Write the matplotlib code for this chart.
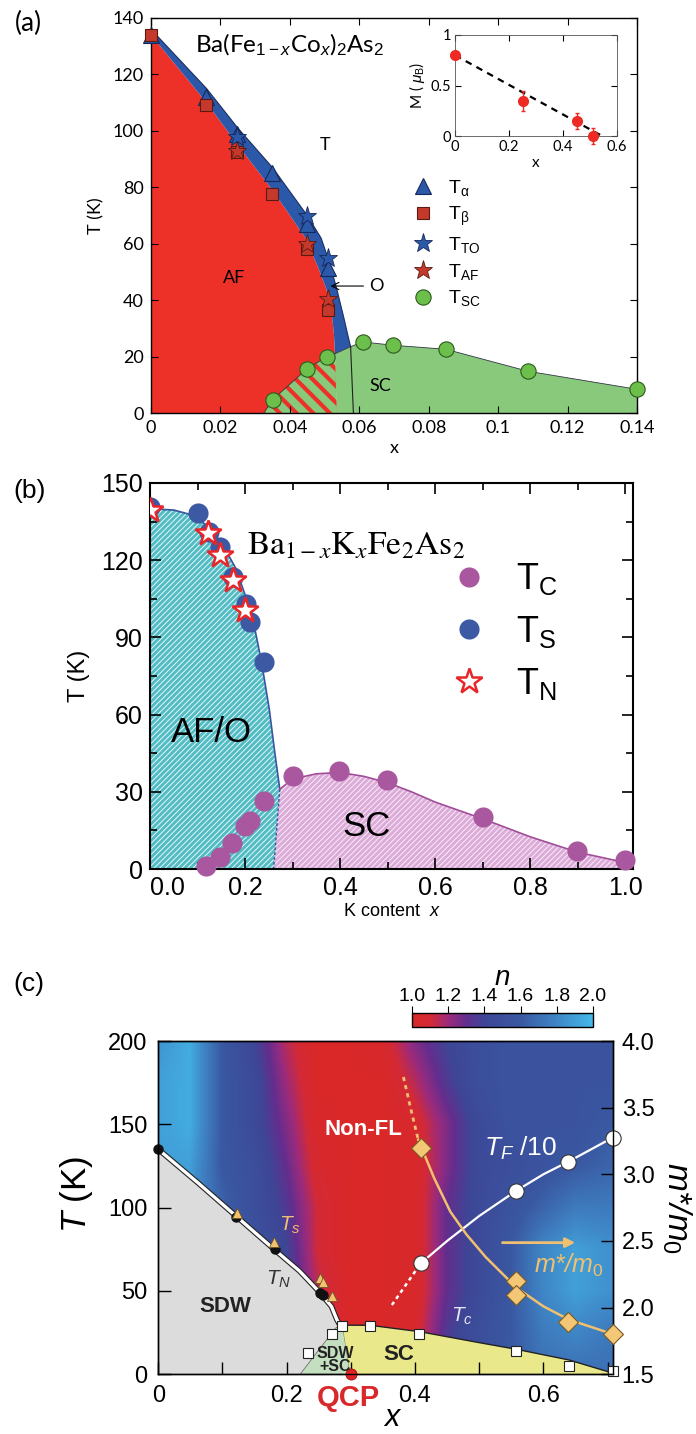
import numpy as np
import matplotlib
matplotlib.use('Agg')
import matplotlib.pyplot as plt
from matplotlib.colors import LinearSegmentedColormap, Normalize
from matplotlib.lines import Line2D
import matplotlib.transforms as mtransforms

plt.rcParams['font.family'] = ['Liberation Sans', 'DejaVu Sans']
plt.rcParams['mathtext.fontset'] = 'custom'
plt.rcParams['mathtext.rm'] = 'Liberation Sans'
plt.rcParams['mathtext.it'] = 'Liberation Sans:italic'
plt.rcParams['mathtext.bf'] = 'Liberation Sans:bold'
plt.rcParams['axes.linewidth'] = 1.0

#%% (a) Ba(Fe1-xCox)2As2 data
a_alpha_x = [0.0, 0.0158, 0.0247, 0.0349, 0.0448, 0.0510]
a_alpha_T = [134, 112, 99, 85, 67, 51.5]
a_beta_x = [0.0, 0.0158, 0.0247, 0.0349, 0.0450, 0.0510]
a_beta_T = [134, 109, 92.5, 77.5, 58, 36.5]
a_to_x = [0.0247, 0.0448, 0.0510]
a_to_T = [98, 70, 55]
a_af_x = [0.0247, 0.0450, 0.0510]
a_af_T = [93, 60, 40.5]
a_sc_x = [0.035, 0.045, 0.0507, 0.061, 0.0698, 0.0849, 0.1086, 0.14]
a_sc_T = [4.7, 15.7, 20, 25.2, 24, 22.6, 14.8, 8.4]

# phase boundaries in (a)
a_af_edge_x = [0.0, 0.016, 0.025, 0.035, 0.0445, 0.048, 0.0505, 0.052, 0.0527, 0.053, 0.0535]
a_af_edge_T = [134, 110, 95, 79, 62, 52, 44, 36, 28, 21, 0]
a_o_edge_x = [0.0, 0.016, 0.025, 0.035, 0.045, 0.049, 0.0515, 0.0535, 0.0555, 0.057, 0.0575]
a_o_edge_T = [136, 115, 101, 87, 70, 62, 53, 44, 34, 26, 23.5]
a_dome_x = [0.053, 0.0575, 0.061, 0.0698, 0.0849, 0.1086, 0.14]
a_dome_T = [21, 23.5, 25.2, 24, 22.6, 14.8, 8.4]
a_mix_x = [0.0325, 0.035, 0.045, 0.0507, 0.053, 0.0535]
a_mix_T = [0, 4.7, 15.7, 20, 21, 0]
a_split_x = [0.0575, 0.0583]
a_split_T = [23.5, 0]

a_xticks = [0, 0.02, 0.04, 0.06, 0.08, 0.1, 0.12, 0.14]
a_xlabels = ['0', '0.02', '0.04', '0.06', '0.08', '0.1', '0.12', '0.14']
a_yticks = [0, 20, 40, 60, 80, 100, 120, 140]

# inset: ordered moment
ins_x = [0.0, 0.25, 0.45, 0.51]
ins_M = [0.80, 0.35, 0.15, 0.0]
ins_err = [0.0, 0.10, 0.08, 0.08]
ins_fit_x = [0.0, 0.545]
ins_fit_M = [0.80, 0.0]

#%% (b) Ba1-xKxFe2As2 data
b_ts_x = [0.0, 0.102, 0.125, 0.147, 0.175, 0.202, 0.21, 0.24]
b_ts_T = [140.5, 138.5, 131, 125, 113.5, 103, 96, 80.5]
b_tn_x = [0.0, 0.123, 0.147, 0.175, 0.200]
b_tn_T = [139.5, 130.5, 122, 112.5, 100.5]
b_tc_x = [0.117, 0.147, 0.173, 0.199, 0.21, 0.239, 0.30, 0.398, 0.499, 0.70, 0.899, 1.0]
b_tc_T = [1.0, 4.7, 10.1, 16.9, 18.6, 26.4, 36.1, 38, 34.5, 20.3, 6.9, 3.4]

b_afo_x = [0.0, 0.05, 0.10, 0.15, 0.18, 0.205, 0.222, 0.235, 0.251, 0.262, 0.273]
b_afo_T = [140, 139.5, 137, 127, 117, 104, 92, 80, 62, 46, 31]
b_dash_x = [0.273, 0.26]
b_dash_T = [31, 0]
b_sc_x = [0.273, 0.30, 0.35, 0.40, 0.45, 0.50, 0.55, 0.60, 0.70, 0.80, 0.90, 1.00, 1.016]
b_sc_T = [31, 35, 37, 37.5, 36, 33.5, 30, 26, 19.5, 12.5, 6.5, 2.5, 2]

b_xticks = [0.0, 0.2, 0.4, 0.6, 0.8, 1.0]
b_xlabels = ['0.0', '0.2', '0.4', '0.6', '0.8', '1.0']
b_yticks = [0, 30, 60, 90, 120, 150]

#%% (c) resistivity exponent map
c_grid_x = [0.0, 0.05, 0.1, 0.15, 0.2, 0.25, 0.3, 0.35, 0.4, 0.45, 0.5, 0.55, 0.6, 0.65, 0.7]
c_grid_T = [0, 25, 50, 75, 100, 125, 150, 175, 200]
c_n_T0   = [1.8, 1.8, 1.7, 1.55, 1.4, 1.15, 1.0, 1.0, 1.1, 1.4, 1.5, 1.6, 1.7, 1.7, 1.7]
c_n_T25  = [1.8, 1.8, 1.7, 1.55, 1.4, 1.15, 1.0, 1.0, 1.05, 1.35, 1.5, 1.6, 1.75, 1.8, 1.75]
c_n_T50  = [1.8, 1.8, 1.7, 1.55, 1.4, 1.15, 1.0, 1.0, 1.02, 1.3, 1.45, 1.6, 1.8, 1.9, 1.85]
c_n_T75  = [1.8, 1.8, 1.7, 1.55, 1.4, 1.1, 1.0, 1.0, 1.02, 1.3, 1.45, 1.6, 1.8, 1.9, 1.85]
c_n_T100 = [1.85, 1.85, 1.65, 1.5, 1.35, 1.1, 1.0, 1.0, 1.02, 1.3, 1.45, 1.55, 1.65, 1.75, 1.75]
c_n_T125 = [1.9, 1.9, 1.6, 1.5, 1.3, 1.05, 1.0, 1.0, 1.02, 1.25, 1.45, 1.5, 1.55, 1.6, 1.65]
c_n_T150 = [1.9, 1.95, 1.6, 1.45, 1.25, 1.02, 1.0, 1.0, 1.05, 1.25, 1.45, 1.55, 1.55, 1.55, 1.6]
c_n_T175 = [1.9, 1.95, 1.6, 1.45, 1.2, 1.0, 1.0, 1.0, 1.15, 1.35, 1.5, 1.55, 1.55, 1.55, 1.55]
c_n_T200 = [1.85, 1.95, 1.6, 1.4, 1.15, 1.0, 1.0, 1.05, 1.25, 1.4, 1.5, 1.55, 1.55, 1.55, 1.55]

c_sdw_x = [0.0, 0.121, 0.182, 0.252, 0.257]
c_sdw_T = [135, 94.2, 75.2, 48.6, 47.6]
c_ts_x = [0.122, 0.18, 0.252, 0.257, 0.27]
c_ts_T = [97, 79.2, 57.6, 55.6, 47]
c_tc_x = [0.234, 0.27, 0.286, 0.33, 0.407, 0.558, 0.64, 0.709]
c_tc_T = [13, 24, 29, 29.2, 24.2, 14.2, 5, 2.2]
c_qcp_x = [0.301]
c_qcp_T = [0]
c_tf_x = [0.409, 0.558, 0.639, 0.708]
c_tf_T = [66.6, 110.2, 127.6, 142]
c_tf_line_x = [0.409, 0.45, 0.50, 0.558, 0.60, 0.639, 0.708]
c_tf_line_T = [66.6, 80, 95, 110.2, 120, 127.6, 142]
c_tf_dash_x = [0.364, 0.409]
c_tf_dash_T = [41.6, 66.6]
c_m_x = [0.41, 0.558, 0.558, 0.639, 0.709]
c_m_val = [3.2, 2.2, 2.095, 1.895, 1.80]
c_m_line_x = [0.405, 0.43, 0.455, 0.48, 0.51, 0.558, 0.60, 0.64, 0.709]
c_m_line_val = [3.26, 2.97, 2.72, 2.55, 2.38, 2.15, 2.01, 1.91, 1.80]
c_m_dot_x = [0.382, 0.393, 0.405]
c_m_dot_val = [3.73, 3.5, 3.26]

c_sdw_edge_x = [0.0, 0.06, 0.121, 0.182, 0.22, 0.252, 0.27, 0.278, 0.283]
c_sdw_edge_T = [135, 115.5, 95, 74.5, 62, 49, 40.6, 33, 29.5]
c_mix_x = [0.221, 0.276, 0.283, 0.287, 0.299]
c_mix_T = [0, 27.6, 29.5, 29.5, 0]
c_dome_x = [0.287, 0.33, 0.407, 0.50, 0.558, 0.64, 0.709]
c_dome_T = [29.5, 29.4, 25.6, 19, 15, 8.6, 0.6]

c_xticks = [0, 0.2, 0.4, 0.6]
c_xlabels = ['0', '0.2', '0.4', '0.6']
c_yticks = [0, 50, 100, 150, 200]
c_rticks = [1.5, 2.0, 2.5, 3.0, 3.5, 4.0]
c_cbticks = [1.0, 1.2, 1.4, 1.6, 1.8, 2.0]

#%% Figure setup
W, H = 696.0, 1434.0
fig = plt.figure(figsize=(W / 100, H / 100), dpi=100)


def box(l, t, r, b):
    return [l / W, 1 - b / H, (r - l) / W, (b - t) / H]


def hatch_lw(patch, lw):
    if hasattr(patch, 'set_hatch_linewidth'):
        patch.set_hatch_linewidth(lw)

#%% Panel (a)
RED_A = '#ee3128'
BLUE_A = '#2b58a8'
GREEN_A = '#88c97c'
FA = 'Lato'

ax_a = fig.add_axes(box(151, 18, 637, 413))
ax_a.fill(a_af_edge_x + [0.0], a_af_edge_T + [0.0], color=RED_A, lw=0, zorder=1)
ax_a.fill(a_o_edge_x + a_af_edge_x[-2::-1], a_o_edge_T + a_af_edge_T[-2::-1],
          color=BLUE_A, lw=0, zorder=1)
ax_a.fill([0.0535] + a_dome_x + [0.14], [0] + a_dome_T + [0], color=GREEN_A, lw=0, zorder=1)
with plt.rc_context({'hatch.linewidth': 3.0}):
    mix = ax_a.fill(a_mix_x, a_mix_T, facecolor=GREEN_A, edgecolor=RED_A,
                    hatch='\\\\', lw=0, zorder=1)[0]
    hatch_lw(mix, 3.0)
ax_a.plot(a_o_edge_x, a_o_edge_T, color='#1c2f60', lw=0.8, zorder=2)
ax_a.plot(a_dome_x, a_dome_T, color='#334', lw=0.6, zorder=2)
ax_a.plot(a_split_x, a_split_T, color='#222', lw=0.8, zorder=2)
ax_a.plot(a_mix_x[:-1], a_mix_T[:-1], color='#333', lw=0.6, zorder=2)

ax_a.plot(a_alpha_x, a_alpha_T, '^', ms=11, mfc=BLUE_A, mec='#15285a', mew=0.8, ls='none', zorder=5, clip_on=False)
ax_a.plot(a_beta_x, a_beta_T, 's', ms=9, mfc='#c5392c', mec='#5a1a10', mew=0.8, ls='none', zorder=6, clip_on=False)
ax_a.plot(a_to_x, a_to_T, '*', ms=14, mfc=BLUE_A, mec='#15285a', mew=0.6, ls='none', zorder=7)
ax_a.plot(a_af_x, a_af_T, '*', ms=14, mfc='#c5392c', mec='#5a1a10', mew=0.6, ls='none', zorder=8)
ax_a.plot(a_sc_x, a_sc_T, 'o', ms=11, mfc='#6dbf4c', mec='#2c5a1c', mew=0.8, ls='none', zorder=9, clip_on=False)

ax_a.set_xlim(0, 0.14)
ax_a.set_ylim(0, 140)
ax_a.set_xticks(a_xticks)
ax_a.set_xticklabels(a_xlabels)
ax_a.set_yticks(a_yticks)
ax_a.tick_params(direction='in', top=True, right=True, length=5, labelsize=13, pad=5)
for lab in ax_a.get_xticklabels() + ax_a.get_yticklabels():
    lab.set_fontfamily(FA)
ax_a.set_xlabel('x', fontsize=13, family=FA, labelpad=3)
ax_a.set_ylabel('T (K)', fontsize=13, family=FA, labelpad=6)

ax_a.text(0.0127, 130.5, r'Ba(Fe$_{1-x}$Co$_x$)$_2$As$_2$', fontsize=17.5, family=FA, va='center')
ax_a.text(0.050, 95, 'T', fontsize=13, family=FA, ha='center', va='center')
ax_a.text(0.024, 48, 'AF', fontsize=13, family=FA, ha='center', va='center')
ax_a.text(0.066, 9.5, 'SC', fontsize=13, family=FA, ha='center', va='center')
ax_a.annotate('O', xy=(0.0517, 45), xytext=(0.0628, 45), fontsize=13, family=FA, va='center',
              arrowprops=dict(arrowstyle='->', lw=0.8, color='k', shrinkA=2, shrinkB=0))

a_handles = [
    Line2D([], [], marker='^', ls='none', ms=11, mfc=BLUE_A, mec='#15285a', mew=0.8),
    Line2D([], [], marker='s', ls='none', ms=9, mfc='#c5392c', mec='#5a1a10', mew=0.8),
    Line2D([], [], marker='*', ls='none', ms=14, mfc=BLUE_A, mec='#15285a', mew=0.6),
    Line2D([], [], marker='*', ls='none', ms=14, mfc='#c5392c', mec='#5a1a10', mew=0.6),
    Line2D([], [], marker='o', ls='none', ms=11, mfc='#6dbf4c', mec='#2c5a1c', mew=0.8),
]
a_labels = [r'T$_{\mathrm{α}}$', r'T$_{\mathrm{β}}$', r'T$_{\mathrm{TO}}$', r'T$_{\mathrm{AF}}$', r'T$_{\mathrm{SC}}$']
leg_a = ax_a.legend(a_handles, a_labels, loc='center left', bbox_to_anchor=(0.535, 0.43),
                    frameon=False, fontsize=14, handlelength=1.2, handletextpad=0.7,
                    labelspacing=0.35, borderpad=0, borderaxespad=0)

# inset
ax_in = fig.add_axes(box(455, 35, 617, 136))
ax_in.plot(ins_fit_x, ins_fit_M, ls=(0, (3, 2.5)), color='k', lw=1.6, zorder=2)
ax_in.errorbar(ins_x, ins_M, yerr=ins_err, fmt='o', ms=7, color='#ee2a24', ecolor='#ee2a24',
               elinewidth=1, capsize=1.5, zorder=3, clip_on=False)
ax_in.set_xlim(0, 0.6)
ax_in.set_ylim(0, 1)
ax_in.set_xticks([0, 0.2, 0.4, 0.6])
ax_in.set_xticklabels(['0', '0.2', '0.4', '0.6'])
ax_in.set_yticks([0, 0.5, 1])
ax_in.set_yticklabels(['0', '0.5', '1'])
ax_in.tick_params(direction='in', top=True, right=True, length=4, labelsize=10.5, pad=3)
for lab in ax_in.get_xticklabels() + ax_in.get_yticklabels():
    lab.set_fontfamily(FA)
ax_in.set_xlabel('x', fontsize=11, family=FA, labelpad=1)
ax_in.set_ylabel(r'M ( $\mu_{\rm B}$)', fontsize=11, family=FA, labelpad=2)
for s in ax_in.spines.values():
    s.set_linewidth(0.6)
    s.set_color('#555')

fig.text(28 / W, 1 - 23 / H, '(a)', fontsize=19, family=FA, ha='center', va='center')

#%% Panel (b)
CYAN_B = '#52bcc4'
PINK_B = '#dcabd9'
ax_b = fig.add_axes(box(150, 483, 633, 869))
with plt.rc_context({'hatch.linewidth': 0.7, 'hatch.color': 'white'}):
    afo = ax_b.fill([0.0] + b_afo_x + b_dash_x[1:], [0.0] + b_afo_T + b_dash_T[1:],
                    facecolor=CYAN_B, edgecolor='#e8f7f8', hatch='//////', lw=0, zorder=1)[0]
    hatch_lw(afo, 0.7)
    scb = ax_b.fill(b_dash_x[::-1] + b_sc_x + [1.016], b_dash_T[::-1] + b_sc_T + [0],
                    facecolor=PINK_B, edgecolor='#f8eef7', hatch='//////', lw=0, zorder=1)[0]
    hatch_lw(scb, 0.7)
ax_b.plot(b_afo_x, b_afo_T, color='#3a55a0', lw=1.2, zorder=2)
ax_b.plot(b_dash_x, b_dash_T, color='#3a55a0', lw=1.0, ls=(0, (2, 1.5)), zorder=2)
ax_b.plot(b_sc_x, b_sc_T, color='#a04e98', lw=1.2, zorder=2)

ax_b.plot(b_tc_x, b_tc_T, 'o', ms=14.5, mfc='#a9579f', mec='none', ls='none', zorder=4, clip_on=False)
ax_b.plot(b_ts_x, b_ts_T, 'o', ms=14.5, mfc='#3d59a3', mec='none', ls='none', zorder=4)
ax_b.plot(b_tn_x, b_tn_T, '*', ms=19, mfc='white', mec='#e8262a', mew=1.8, ls='none', zorder=5)

ax_b.set_xlim(0, 1.016)
ax_b.set_ylim(0, 150)
ax_b.set_xticks(b_xticks)
ax_b.set_xticklabels(b_xlabels)
ax_b.get_xticklabels()[0].set_horizontalalignment('left')
ax_b.set_xticks(np.arange(0.1, 1.0, 0.2), minor=True)
ax_b.set_yticks(b_yticks)
ax_b.set_yticks(np.arange(15, 150, 30), minor=True)
ax_b.tick_params(which='both', direction='in', top=True, right=True, labelsize=18, pad=5)
ax_b.tick_params(which='major', length=8, width=1.2)
ax_b.tick_params(which='minor', length=5, width=1.2)
for s in ax_b.spines.values():
    s.set_linewidth(1.5)
ax_b.set_xlabel(r'K content  $x$', fontsize=13, labelpad=2)
ax_b.set_ylabel('T (K)', fontsize=17, labelpad=8)

ax_b.text(0.205, 125.5, r'$\mathrm{Ba}_{1-x}\mathrm{K}_x\mathrm{Fe}_2\mathrm{As}_2$', fontsize=24,
          math_fontfamily='stix', va='center')
ax_b.text(0.13, 53, 'AF/O', fontsize=25, ha='center', va='center', zorder=6)
ax_b.text(0.455, 16.5, 'SC', fontsize=25, ha='center', va='center', zorder=6)

b_handles = [
    Line2D([], [], marker='o', ls='none', ms=14.5, mfc='#a9579f', mec='none'),
    Line2D([], [], marker='o', ls='none', ms=14.5, mfc='#3d59a3', mec='none'),
    Line2D([], [], marker='*', ls='none', ms=19, mfc='white', mec='#e8262a', mew=1.8),
]
b_labels = [r'T$_{\mathrm{C}}$', r'T$_{\mathrm{S}}$', r'T$_{\mathrm{N}}$']
ax_b.legend(b_handles, b_labels, loc='center left', bbox_to_anchor=(0.63, 0.615),
            frameon=False, fontsize=26, handlelength=0.8, handletextpad=0.9,
            labelspacing=0.45, borderpad=0, borderaxespad=0)

fig.text(30 / W, 1 - 491 / H, '(b)', fontsize=19, ha='center', va='center')

#%% Panel (c)
n_cmap = LinearSegmentedColormap.from_list('n_exp', [
    (0.0, '#da2828'), (0.1, '#d42a36'), (0.2, '#9b2b7c'), (0.3, '#632e8e'),
    (0.4, '#3e4696'), (0.6, '#3a58a2'), (0.8, '#3f86c6'), (1.0, '#44b8e8')])
c_n = np.array([c_n_T0, c_n_T25, c_n_T50, c_n_T75, c_n_T100, c_n_T125, c_n_T150, c_n_T175, c_n_T200])
dx = c_grid_x[1] - c_grid_x[0]
dT = c_grid_T[1] - c_grid_T[0]

ax_c = fig.add_axes(box(158.3, 1041, 613.3, 1374.3))
im = ax_c.imshow(c_n, origin='lower', cmap=n_cmap, norm=Normalize(1.0, 2.0), aspect='auto',
                 interpolation='bilinear',
                 extent=(c_grid_x[0] - dx / 2, c_grid_x[-1] + dx / 2, c_grid_T[0] - dT / 2, c_grid_T[-1] + dT / 2),
                 zorder=0)
ax_c.fill(c_sdw_edge_x + c_mix_x[1::-1] + [0.0], c_sdw_edge_T + c_mix_T[1::-1] + [0.0],
          color='#dcdcdc', lw=0, zorder=1)
ax_c.fill(c_mix_x, c_mix_T, facecolor='#c4dfbf', edgecolor='#777', lw=0.6, zorder=1)
ax_c.fill([0.299] + c_dome_x + [0.709], [0] + c_dome_T + [0], color='#e9e98c', lw=0, zorder=1)
ax_c.plot(c_dome_x, c_dome_T, color='#222', lw=1.0, zorder=2)
ax_c.plot(c_sdw_edge_x, c_sdw_edge_T, color='#222', lw=4.0, zorder=2, solid_capstyle='butt')
ax_c.plot(c_sdw_edge_x, c_sdw_edge_T, color='white', lw=2.4, zorder=2, solid_capstyle='butt')

ax_c.plot(c_sdw_x, c_sdw_T, 'o', ms=6.5, mfc='#111', mec='#111', ls='none', zorder=4, clip_on=False)
ax_c.plot(c_ts_x, c_ts_T, '^', ms=6.5, mfc='#f2c26e', mec='#6b5524', mew=0.6, ls='none', zorder=5)
ax_c.plot(c_tc_x, c_tc_T, 's', ms=7, mfc='white', mec='#222', mew=0.8, ls='none', zorder=6, clip_on=False)
ax_c.plot(c_qcp_x, c_qcp_T, 'o', ms=8, mfc='#e02424', mec='#a01010', mew=0.6, ls='none', zorder=7, clip_on=False)
ax_c.plot(c_tf_line_x, c_tf_line_T, color='white', lw=1.6, zorder=3)
ax_c.plot(c_tf_dash_x, c_tf_dash_T, color='white', lw=1.8, ls=(0, (1.5, 1.5)), zorder=3)
ax_c.plot(c_tf_x, c_tf_T, 'o', ms=11, mfc='white', mec='#333', mew=0.8, ls='none', zorder=6, clip_on=False)

ax_c.set_xlim(0, 0.709)
ax_c.set_ylim(0, 200)
ax_c.set_xticks(c_xticks)
ax_c.set_xticklabels(c_xlabels)
ax_c.set_xticks([0.1, 0.3, 0.5, 0.7], minor=True)
ax_c.set_yticks(c_yticks)
ax_c.tick_params(which='both', direction='in', labelsize=17, length=9, width=1.0, pad=8,
                 top=False, right=False)
ax_c.set_xlabel(r'$x$', fontsize=22)
ax_c.xaxis.set_label_coords(0.515, -0.085)
ax_c.set_ylabel(r'$T$ (K)', fontsize=25, labelpad=3)
ax_c.yaxis.set_label_coords(-0.14, 0.54)

ax_c.text(0.32, 147, 'Non-FL', color='white', fontsize=16, fontweight='bold', ha='center', va='center', zorder=8)
ax_c.text(0.104, 40.6, 'SDW', color='#222', fontsize=16, fontweight='bold', ha='center', va='center', zorder=8)
ax_c.text(0.374, 12, 'SC', color='#222', fontsize=16, fontweight='bold', ha='center', va='center', zorder=8)
ax_c.text(0.276, 8.6, 'SDW\n+SC', color='#222', fontsize=11.5, fontweight='bold', ha='center', va='center',
          linespacing=0.85, zorder=8)
ax_c.text(0.205, 89.6, r'$T_s$', color='#f0c070', fontsize=15, ha='center', va='center', zorder=8)
ax_c.text(0.187, 57, r'$T_N$', color='#333', fontsize=15, ha='center', va='center', zorder=8)
ax_c.text(0.473, 34.6, r'$T_c$', color='#e8e4f8', fontsize=15, ha='center', va='center', zorder=8)
ax_c.text(0.564, 135.6, r'$T_F$ /10', color='white', fontsize=19, ha='center', va='center', zorder=8)
ax_c.annotate('', xy=(0.654, 79), xytext=(0.532, 79),
              arrowprops=dict(arrowstyle='-|>', color='#f0c070', lw=2.0, mutation_scale=14), zorder=8)
ax_c.text(0.639, 65.6, r'$m$*/$m_0$', color='#f0c070', fontsize=18, fontstyle='italic', ha='center',
          va='center', zorder=8)
qcp_tr = mtransforms.blended_transform_factory(ax_c.transData, ax_c.transAxes)
ax_c.text(0.296, -0.028, 'QCP', color='#d8282a', fontsize=21, fontweight='bold', ha='center', va='top',
          transform=qcp_tr)

ax_r = ax_c.twinx()
ax_r.set_ylim(1.5, 4.0)
ax_r.set_yticks(c_rticks)
ax_r.set_yticklabels(['1.5', '2.0', '2.5', '3.0', '3.5', '4.0'])
ax_r.tick_params(direction='in', labelsize=17, length=9, width=1.0, pad=6)
ax_r.plot(c_m_line_x, c_m_line_val, color='#f0c070', lw=1.8, zorder=3)
ax_r.plot(c_m_dot_x, c_m_dot_val, color='#f0c070', lw=2.0, ls=(0, (1.5, 1.5)), zorder=3)
ax_r.plot(c_m_x, c_m_val, 'D', ms=10, mfc='#f3c775', mec='#7a5a20', mew=0.8, ls='none', zorder=5,
          clip_on=False)
ax_r.set_ylabel(r'$m$*/$m_0$', fontsize=24, fontstyle='italic', rotation=270, labelpad=28)

# colour bar for n
cax = fig.add_axes(box(412.3, 1013.3, 592.7, 1027.3))
cb = fig.colorbar(im, cax=cax, orientation='horizontal')
cb.set_ticks(c_cbticks)
cb.set_ticklabels(['1.0', '1.2', '1.4', '1.6', '1.8', '2.0'])
cax.xaxis.set_ticks_position('top')
cax.xaxis.set_label_position('top')
cax.tick_params(direction='out', length=5, labelsize=14, pad=1)
cb.outline.set_linewidth(1.0)
cax.set_xlabel(r'$n$', fontsize=20, labelpad=2)

fig.text(29 / W, 1 - 984 / H, '(c)', fontsize=19, ha='center', va='center')

fig.savefig('out.png', dpi=100)
